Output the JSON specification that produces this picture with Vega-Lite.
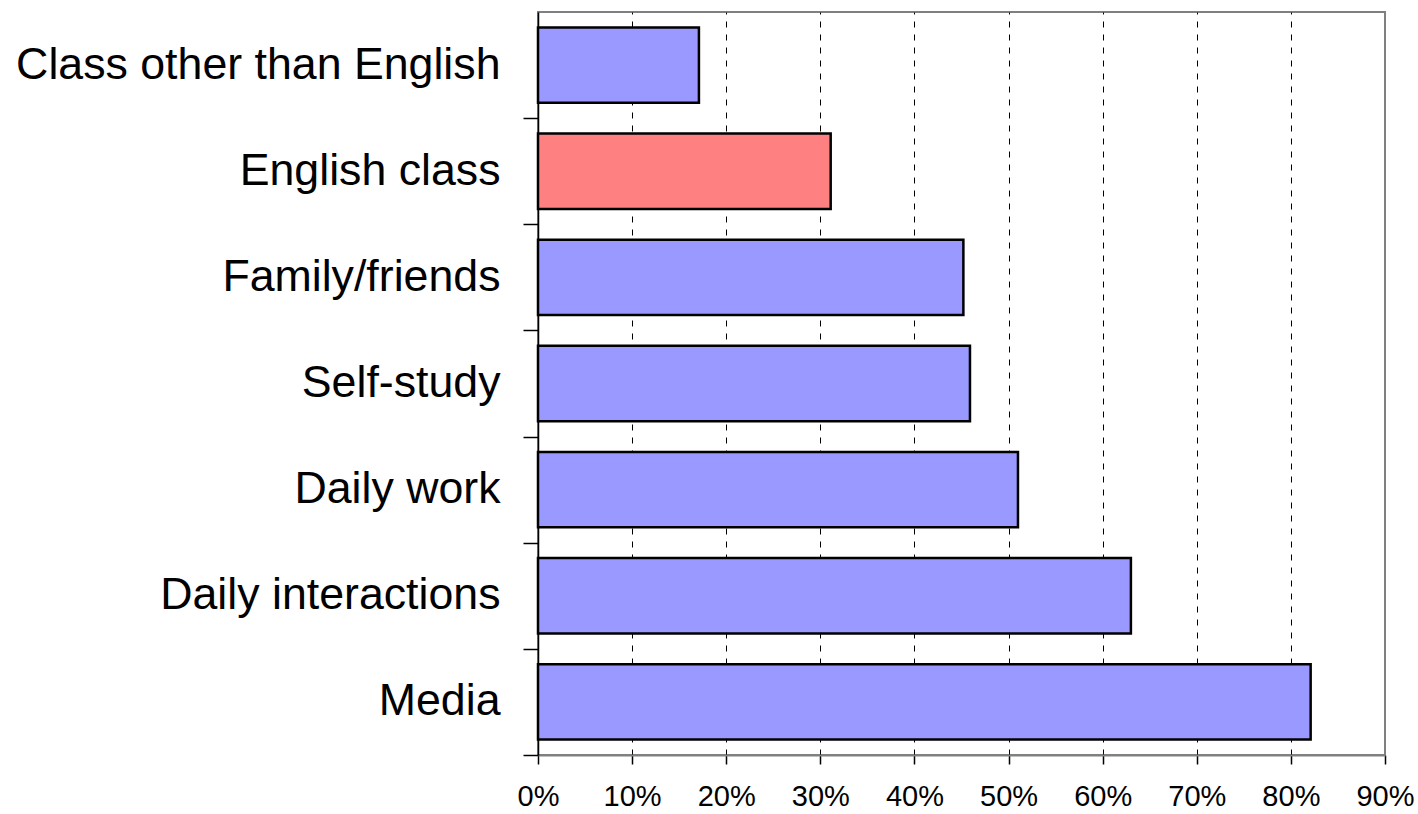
{
  "$schema": "https://vega.github.io/schema/vega-lite/v6.json",
  "autosize": {"type": "none"},
  "padding": {"left": 538, "top": 12, "right": 33, "bottom": 59},
  "width": 847,
  "height": 743,
  "background": "white",
  "config": {
    "font": "Liberation Sans",
    "view": {"stroke": "#808080", "strokeWidth": 2}
  },
  "data": {
    "values": [
      {"source": "Class other than English", "share": 17.1, "highlight": "no"},
      {"source": "English class", "share": 31.1, "highlight": "yes"},
      {"source": "Family/friends", "share": 45.2, "highlight": "no"},
      {"source": "Self-study", "share": 45.9, "highlight": "no"},
      {"source": "Daily work", "share": 51.0, "highlight": "no"},
      {"source": "Daily interactions", "share": 63.0, "highlight": "no"},
      {"source": "Media", "share": 82.1, "highlight": "no"}
    ]
  },
  "mark": {"type": "bar", "stroke": "black", "strokeWidth": 2.5},
  "encoding": {
    "y": {
      "field": "source",
      "type": "nominal",
      "sort": null,
      "scale": {"paddingInner": 0.29, "paddingOuter": 0.145},
      "axis": {
        "title": null,
        "labelFont": "Liberation Sans",
        "labelFontSize": 44.7,
        "labelColor": "black",
        "labelPadding": 23,
        "labelLimit": 600,
        "tickOffset": 53,
        "labelOffset": -53,
        "tickSize": 15,
        "tickColor": "black",
        "tickWidth": 1.5,
        "domainColor": "black",
        "domainWidth": 1.5,
        "grid": false
      }
    },
    "x": {
      "field": "share",
      "type": "quantitative",
      "scale": {"domain": [0, 90], "nice": false},
      "axis": {
        "title": null,
        "values": [0, 10, 20, 30, 40, 50, 60, 70, 80, 90],
        "labelExpr": "datum.value + '%'",
        "labelFont": "Liberation Sans",
        "labelFontSize": 29,
        "labelColor": "black",
        "labelFlush": false,
        "labelOverlap": false,
        "labelPadding": 18,
        "tickSize": 9,
        "tickColor": "black",
        "tickWidth": 1.5,
        "domainColor": "#808080",
        "domainWidth": 2,
        "grid": true,
        "gridColor": "black",
        "gridWidth": 1,
        "gridDash": [6, 7],
        "gridOpacity": {"condition": {"test": "datum.value == 0 || datum.value == 90", "value": 0}, "value": 1}
      }
    },
    "color": {
      "field": "highlight",
      "type": "nominal",
      "scale": {"domain": ["no", "yes"], "range": ["#9999FF", "#FF8080"]},
      "legend": null
    }
  }
}
